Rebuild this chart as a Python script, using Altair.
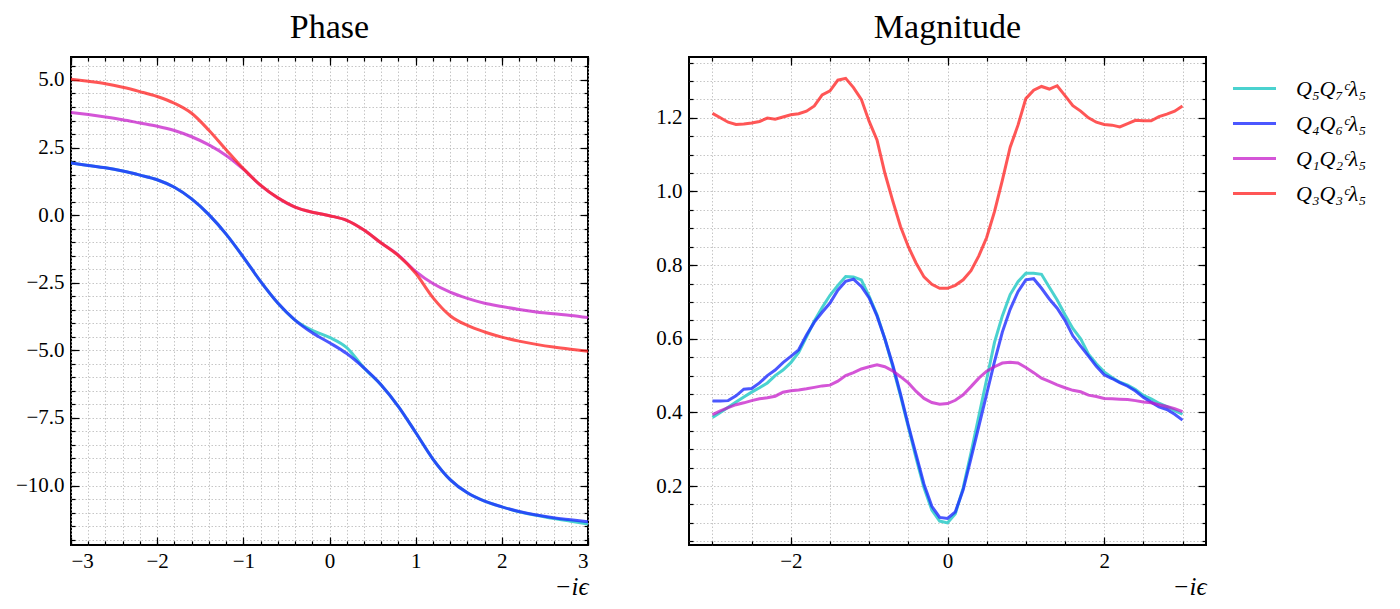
import altair as alt
import pandas as pd

SERIES = ["Q₅Q₇ᶜλ₅", "Q₄Q₆ᶜλ₅", "Q₁Q₂ᶜλ₅", "Q₃Q₃ᶜλ₅"]
COLORS = ["rgba(64,208,204,0.95)", "rgba(30,45,255,0.8)",
          "rgba(195,20,200,0.72)", "rgba(255,30,30,0.75)"]

# ---------------- Phase panel data ----------------
PHASE_X = [-3.0, -2.8, -2.6, -2.4, -2.2, -2.0, -1.8, -1.6, -1.4, -1.2, -1.0,
           -0.8, -0.6, -0.4, -0.2, 0.0, 0.2, 0.4, 0.6, 0.8, 1.0,
           1.2, 1.4, 1.6, 1.8, 2.0, 2.2, 2.4, 2.6, 2.8, 3.0]
PHASE_CYAN = [1.93, 1.84, 1.75, 1.63, 1.48, 1.31, 1.03, 0.60, 0.02, -0.70, -1.55,
              -2.45, -3.25, -3.88, -4.26, -4.52, -4.90, -5.65, -6.28, -7.08, -8.04,
              -9.02, -9.78, -10.27, -10.58, -10.79, -10.97, -11.10, -11.22, -11.32, -11.42]
PHASE_BLUE = [1.93, 1.84, 1.75, 1.63, 1.48, 1.31, 1.03, 0.60, 0.02, -0.70, -1.55,
              -2.45, -3.25, -3.88, -4.35, -4.72, -5.12, -5.65, -6.28, -7.08, -8.04,
              -9.02, -9.78, -10.27, -10.58, -10.79, -10.96, -11.09, -11.19, -11.27, -11.34]
PHASE_MAGENTA = [3.80, 3.72, 3.63, 3.53, 3.41, 3.29, 3.13, 2.90, 2.60, 2.21, 1.70,
                 1.10, 0.64, 0.30, 0.11, -0.02, -0.19, -0.55, -1.03, -1.48, -2.08,
                 -2.53, -2.85, -3.08, -3.26, -3.38, -3.49, -3.58, -3.65, -3.71, -3.79]
PHASE_RED = [5.03, 4.95, 4.86, 4.73, 4.57, 4.39, 4.14, 3.77, 3.14, 2.42, 1.72,
             1.11, 0.64, 0.30, 0.11, -0.02, -0.19, -0.55, -1.03, -1.50, -2.15,
             -3.05, -3.72, -4.08, -4.32, -4.51, -4.66, -4.78, -4.88, -4.96, -5.03]

# ---------------- Magnitude panel data ----------------
MAG_X = [-3.0, -2.9, -2.8, -2.7, -2.6, -2.5, -2.4, -2.3, -2.2, -2.1,
         -2.0, -1.9, -1.8, -1.7, -1.6, -1.5, -1.4, -1.3, -1.2, -1.1,
         -1.0, -0.9, -0.8, -0.7, -0.6, -0.5, -0.4, -0.3, -0.2, -0.1,
         0.0, 0.1, 0.2, 0.3, 0.4, 0.5, 0.6, 0.7, 0.8, 0.9,
         1.0, 1.1, 1.2, 1.3, 1.4, 1.5, 1.6, 1.7, 1.8, 1.9,
         2.0, 2.1, 2.2, 2.3, 2.4, 2.5, 2.6, 2.7, 2.8, 2.9, 3.0]
MAG_CYAN = [0.386, 0.400, 0.414, 0.428, 0.442, 0.455, 0.467, 0.480, 0.500, 0.515,
            0.535, 0.563, 0.605, 0.648, 0.685, 0.718, 0.745, 0.769, 0.768, 0.760,
            0.715, 0.665, 0.600, 0.525, 0.445, 0.360, 0.275, 0.195, 0.135, 0.105,
            0.100, 0.125, 0.195, 0.290, 0.390, 0.490, 0.590, 0.662, 0.720, 0.755,
            0.778, 0.778, 0.775, 0.740, 0.705, 0.665, 0.628, 0.600, 0.558, 0.532,
            0.510, 0.495, 0.482, 0.474, 0.462, 0.446, 0.437, 0.425, 0.416, 0.405, 0.395]
MAG_BLUE = [0.431, 0.431, 0.432, 0.445, 0.463, 0.465, 0.480, 0.500, 0.515, 0.535,
            0.552, 0.570, 0.610, 0.645, 0.672, 0.697, 0.732, 0.756, 0.762, 0.742,
            0.711, 0.662, 0.600, 0.530, 0.450, 0.365, 0.285, 0.205, 0.145, 0.115,
            0.112, 0.130, 0.190, 0.275, 0.362, 0.450, 0.538, 0.618, 0.680, 0.728,
            0.760, 0.763, 0.737, 0.708, 0.683, 0.650, 0.608, 0.580, 0.553, 0.525,
            0.502, 0.492, 0.481, 0.471, 0.458, 0.441, 0.428, 0.415, 0.408, 0.395, 0.379]
MAG_MAGENTA = [0.394, 0.404, 0.413, 0.421, 0.426, 0.432, 0.437, 0.440, 0.444, 0.455,
               0.459, 0.461, 0.464, 0.468, 0.472, 0.474, 0.485, 0.500, 0.508, 0.518,
               0.524, 0.529, 0.524, 0.513, 0.497, 0.480, 0.457, 0.438, 0.427, 0.422,
               0.424, 0.433, 0.448, 0.470, 0.493, 0.512, 0.524, 0.534, 0.536, 0.534,
               0.522, 0.508, 0.493, 0.484, 0.475, 0.467, 0.460, 0.456, 0.447, 0.443,
               0.438, 0.437, 0.436, 0.435, 0.432, 0.428, 0.426, 0.421, 0.416, 0.410, 0.402]
MAG_RED = [1.212, 1.200, 1.188, 1.182, 1.183, 1.186, 1.190, 1.199, 1.196, 1.202,
           1.208, 1.211, 1.218, 1.232, 1.262, 1.273, 1.302, 1.307, 1.282, 1.250,
           1.190, 1.140, 1.050, 0.975, 0.905, 0.850, 0.805, 0.768, 0.748, 0.737,
           0.737, 0.745, 0.760, 0.785, 0.825, 0.875, 0.945, 1.030, 1.120, 1.180,
           1.252, 1.275, 1.285, 1.278, 1.287, 1.260, 1.233, 1.218, 1.200, 1.188,
           1.182, 1.180, 1.175, 1.184, 1.193, 1.192, 1.192, 1.203, 1.210, 1.218, 1.232]

# ---------------- tick values ----------------
PH_X_MAJOR = [-3, -2, -1, 0, 1, 2, 3]
PH_X_MINOR = [round(-3 + 0.2 * i, 1) for i in range(31)]
PH_Y_MAJOR = [-10.0, -7.5, -5.0, -2.5, 0.0, 2.5, 5.0]
PH_Y_MINOR = [round(-12 + 0.5 * i, 1) for i in range(36)]
MG_X_MAJOR = [-2, 0, 2]
MG_X_MINOR = [round(-3 + 0.5 * i, 1) for i in range(13)]
MG_Y_MAJOR = [0.2, 0.4, 0.6, 0.8, 1.0, 1.2]
MG_Y_MINOR = [round(0.05 + 0.05 * i, 2) for i in range(27)]

FONT = "Liberation Serif, DejaVu Serif, serif"


def long_df(xs, series_values):
    rows = []
    for name, ys in zip(SERIES, series_values):
        for x, y in zip(xs, ys):
            rows.append({"x": x, "y": y, "s": name})
    return pd.DataFrame(rows)


def panel(df, title, xdom, xmaj, xmin, xfmt, ydom, ymaj, ymin, yfmt, interp):
    base = alt.Chart(df)
    xs = alt.Scale(domain=xdom, nice=False, zero=False)
    ys = alt.Scale(domain=ydom, nice=False, zero=False)
    common = dict(domain=False, tickColor="black", tickWidth=1.2,
                  labelFont=FONT, labelFontSize=21, labelColor="black")

    lines = base.mark_line(strokeWidth=3, interpolate=interp, clip=True).encode(
        x=alt.X("x:Q", scale=xs, axis=alt.Axis(
            orient="bottom", values=xmaj, format=xfmt, offset=-8, tickSize=8,
            labelPadding=5, grid=False, title="−iϵ", titleAnchor="end",
            titleFontStyle="italic", titleFontSize=25, titleFont=FONT,
            titleFontWeight="normal", titleColor="black", titlePadding=3, **common)),
        y=alt.Y("y:Q", scale=ys, axis=alt.Axis(
            orient="left", values=ymaj, format=yfmt, offset=-8, tickSize=8,
            labelPadding=7, grid=False, title=None, **common)),
        color=alt.Color("s:N", scale=alt.Scale(domain=SERIES, range=COLORS),
                        legend=alt.Legend(
                            title=None, labelFont=FONT, labelFontStyle="italic",
                            labelFontSize=22, labelColor="black")),
    )
    minor = base.mark_line(opacity=0).encode(
        x=alt.X("x:Q", scale=xs, axis=alt.Axis(
            orient="bottom", values=xmin, offset=-4, tickSize=4, labels=False,
            grid=True, title=None, **common)),
        y=alt.Y("y:Q", scale=ys, axis=alt.Axis(
            orient="left", values=ymin, offset=-4, tickSize=4, labels=False,
            grid=True, title=None, **common)),
        detail="s:N",
    )
    top_major = base.mark_line(opacity=0).encode(
        x=alt.X("x:Q", scale=xs, axis=alt.Axis(
            orient="top", values=xmaj, offset=-8, tickSize=8, labels=False,
            grid=False, title=None, **common)),
        y=alt.Y("y:Q", scale=ys, axis=alt.Axis(
            orient="right", values=ymaj, offset=-8, tickSize=8, labels=False,
            grid=False, title=None, **common)),
        detail="s:N",
    )
    top_minor = base.mark_line(opacity=0).encode(
        x=alt.X("x:Q", scale=xs, axis=alt.Axis(
            orient="top", values=xmin, offset=-4, tickSize=4, labels=False,
            grid=False, title=None, **common)),
        y=alt.Y("y:Q", scale=ys, axis=alt.Axis(
            orient="right", values=ymin, offset=-4, tickSize=4, labels=False,
            grid=False, title=None, **common)),
        detail="s:N",
    )
    return alt.layer(minor, top_major, top_minor, lines).resolve_axis(
        x="independent", y="independent"
    ).properties(width=517, height=488,
                 title=alt.TitleParams(title, font=FONT, fontSize=34,
                                       fontWeight="normal", color="black",
                                       offset=11))


phase_df = long_df(PHASE_X, [PHASE_CYAN, PHASE_BLUE, PHASE_MAGENTA, PHASE_RED])
mag_df = long_df(MAG_X, [MAG_CYAN, MAG_BLUE, MAG_MAGENTA, MAG_RED])

left = panel(phase_df, "Phase", [-3, 3], PH_X_MAJOR, PH_X_MINOR, "d",
             [-12.2, 5.85], PH_Y_MAJOR, PH_Y_MINOR, ".1f", "monotone")
right = panel(mag_df, "Magnitude", [-3.3, 3.3], MG_X_MAJOR, MG_X_MINOR, "d",
              [0.04, 1.365], MG_Y_MAJOR, MG_Y_MINOR, ".1f", "linear")

chart = alt.hconcat(left, right, spacing=64).properties(
    padding={"top": 2, "left": 6, "right": 0, "bottom": 0}
).configure_view(
    stroke="black", strokeWidth=2
).configure_axis(
    labelFont=FONT, labelFontSize=21, labelColor="black",
    gridColor="#b8b8b8", gridDash=[1.5, 2], gridWidth=0.8, gridOpacity=1,
).configure_legend(
    orient="right", offset=15, padding=8,
    symbolType="stroke", symbolStrokeWidth=3, symbolSize=1850,
    labelFont=FONT, labelFontStyle="italic", labelFontSize=22, labelColor="black",
    labelOffset=18, rowPadding=-1, symbolOpacity=1,
)

chart.save("out.html", embed_options={"renderer": "svg", "actions": False})
